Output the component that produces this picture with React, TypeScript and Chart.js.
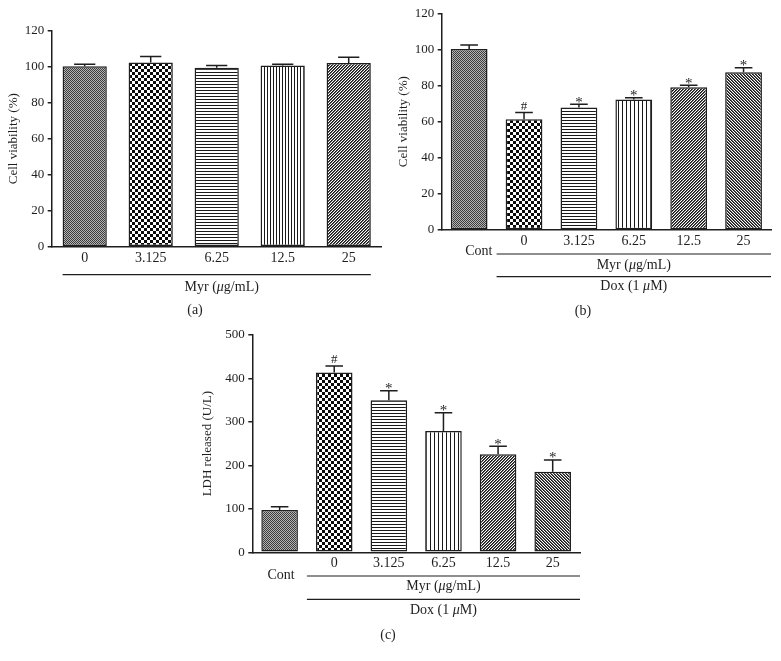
import React, { useEffect, useRef } from 'react';
import { Chart, registerables } from 'chart.js';

Chart.register(...registerables);

const FONT = "'Liberation Serif', 'Times New Roman', serif";
const INK = '#1e1e1e';

// ---------- Panel (a) ----------
const catsA = ['0', '3.125', '6.25', '12.5', '25'];
const valsA = [100.2, 102.4, 99.4, 100.6, 102.0];
const errA = [101.3, 105.6, 100.6, 101.3, 105.2];
const marksA = ['', '', '', '', ''];
const yMaxA = 120;
const yStepA = 20;

// ---------- Panel (b) ----------
const catsB = ['Cont', '0', '3.125', '6.25', '12.5', '25'];
const valsB = [100.2, 61.3, 67.9, 72.2, 79.0, 87.3];
const errB = [102.4, 65.0, 69.6, 73.3, 80.1, 89.9];
const marksB = ['', '#', '*', '*', '*', '*'];
const yMaxB = 120;
const yStepB = 20;

// ---------- Panel (c) ----------
const catsC = ['Cont', '0', '3.125', '6.25', '12.5', '25'];
const valsC = [97.3, 414, 349.7, 279, 225.5, 185.5];
const errC = [105, 428.7, 371.8, 321.2, 243.9, 212.4];
const marksC = ['', '#', '*', '*', '*', '*'];
const yMaxC = 500;
const yStepC = 100;

// fill styles (not data)
const patsA = ['fine', 'checker', 'hlines', 'vlines3', 'diagUp'];
const patsBC = ['fine', 'checker', 'hlines', 'vlines', 'diagUp', 'diagDown'];

type Part = [string, boolean];
const MYR: Part[] = [['Myr (', false], ['\u03bc', true], ['g/mL)', false]];
const DOX: Part[] = [['Dox (1 ', false], ['\u03bc', true], ['M)', false]];

const HSIZE = 14; // horizontal label text size

function makePattern(kind: string): CanvasPattern | string {
  let w = 2, h = 2;
  let fn: (x: number, y: number) => number = () => 255;
  if (kind === 'fine') { w = 2; h = 2; fn = (x, y) => ((x + y) % 2 === 0 ? 60 : 180); }
  else if (kind === 'checker') { w = 6; h = 6; fn = (x, y) => ((Math.floor(x / 3) + Math.floor(y / 3)) % 2 === 0 ? 10 : 255); }
  else if (kind === 'hlines') { w = 1; h = 3; fn = (_x, y) => (y % 3 === 0 ? 25 : 255); }
  else if (kind === 'vlines') { w = 4; h = 1; fn = (x) => (x % 4 === 0 ? 25 : 255); }
  else if (kind === 'vlines3') { w = 3; h = 1; fn = (x) => (x % 3 === 0 ? 25 : 255); }
  else if (kind === 'diagUp') { w = 3; h = 3; fn = (x, y) => { const m = (x + y) % 3; return m === 0 ? 20 : m === 1 ? 95 : 255; }; }
  else if (kind === 'diagDown') { w = 3; h = 3; fn = (x, y) => { const m = (x - y + 300) % 3; return m === 0 ? 20 : m === 1 ? 95 : 255; }; }
  const c = document.createElement('canvas');
  c.width = w; c.height = h;
  const cx = c.getContext('2d')!;
  const img = cx.createImageData(w, h);
  for (let y = 0; y < h; y++) {
    for (let x = 0; x < w; x++) {
      const g = fn(x, y);
      const i = (y * w + x) * 4;
      img.data[i] = g; img.data[i + 1] = g; img.data[i + 2] = g; img.data[i + 3] = 255;
    }
  }
  cx.putImageData(img, 0, 0);
  const p = cx.createPattern(c, 'repeat');
  return p || '#888';
}

function drawRich(ctx: CanvasRenderingContext2D, parts: Part[], cx: number, cy: number, size: number) {
  const fontOf = (it: boolean) => `${it ? 'italic ' : ''}${size}px ${FONT}`;
  let total = 0;
  const widths = parts.map(([t, it]) => { ctx.font = fontOf(it); const w = ctx.measureText(t).width; total += w; return w; });
  let x = cx - total / 2;
  ctx.textAlign = 'left';
  ctx.textBaseline = 'middle';
  parts.forEach(([t, it], i) => { ctx.font = fontOf(it); ctx.fillText(t, x, cy); x += widths[i]; });
}

interface GroupSpec { lineDy: number; labelDy: number; labelDx: number; parts: Part[]; }
interface PanelSpec {
  left: number; top: number; w: number; h: number;
  cats: string[]; vals: number[]; errs: number[]; marks: string[]; pats: string[];
  yMax: number; yStep: number; yTitle: string;
  padLeft: number; padTop: number; padRight: number; yWidth: number; xHeight: number;
  lineFrom: 'barEdge' | 'boundary';
  groups: GroupSpec[];
  cont?: { dx: number; dy: number };
  letter: { text: string; x: number; dy: number };
}

const SPECS: PanelSpec[] = [
  {
    left: 0, top: 0, w: 390, h: 320,
    cats: catsA, vals: valsA, errs: errA, marks: marksA, pats: patsA,
    yMax: yMaxA, yStep: yStepA, yTitle: 'Cell viability (%)',
    padLeft: 6.2, padTop: 30.7, padRight: 8.3, yWidth: 45.5, xHeight: 73.3,
    lineFrom: 'barEdge',
    groups: [{ lineDy: 28, labelDy: 40.5, labelDx: 5, parts: MYR }],
    letter: { text: '(a)', x: 195, dy: 63.5 },
  },
  {
    left: 390, top: 0, w: 391, h: 320,
    cats: catsB, vals: valsB, errs: errB, marks: marksB, pats: patsBC,
    yMax: yMaxB, yStep: yStepB, yTitle: 'Cell viability (%)',
    padLeft: 6.2, padTop: 13.3, padRight: 10, yWidth: 45.5, xHeight: 90,
    lineFrom: 'boundary',
    groups: [
      { lineDy: 24, labelDy: 35, labelDx: 0, parts: MYR },
      { lineDy: 46.7, labelDy: 56.7, labelDx: 0, parts: DOX },
    ],
    cont: { dx: 9.7, dy: 21.7 },
    letter: { text: '(b)', x: 193, dy: 81 },
  },
  {
    left: 190, top: 320, w: 400, h: 341,
    cats: catsC, vals: valsC, errs: errC, marks: marksC, pats: patsBC,
    yMax: yMaxC, yStep: yStepC, yTitle: 'LDH released (U/L)',
    padLeft: 9.5, padTop: 15, padRight: 10, yWidth: 52.8, xHeight: 108.7,
    lineFrom: 'boundary',
    groups: [
      { lineDy: 23.7, labelDy: 34.4, labelDx: 0, parts: MYR },
      { lineDy: 47, labelDy: 58.4, labelDx: 0, parts: DOX },
    ],
    cont: { dx: 1.5, dy: 22.7 },
    letter: { text: '(c)', x: 198, dy: 82.7 },
  },
];

function Panel({ spec }: { spec: PanelSpec }) {
  const ref = useRef<HTMLCanvasElement | null>(null);
  useEffect(() => {
    const canvas = ref.current;
    if (!canvas) return;
    const extras = {
      id: 'extras',
      afterDatasetsDraw(chart: any) {
        const ctx: CanvasRenderingContext2D = chart.ctx;
        const meta = chart.getDatasetMeta(0);
        const ys = chart.scales.y;
        ctx.save();
        ctx.strokeStyle = INK;
        ctx.fillStyle = INK;
        ctx.lineWidth = 1.5;
        spec.vals.forEach((v, i) => {
          const bar = meta.data[i];
          const x = bar.x;
          const yTop = ys.getPixelForValue(v);
          const yErr = ys.getPixelForValue(spec.errs[i]);
          const half = bar.width * 0.24;
          ctx.beginPath();
          ctx.moveTo(x, yTop);
          ctx.lineTo(x, yErr);
          ctx.moveTo(x - half, yErr);
          ctx.lineTo(x + half, yErr);
          ctx.stroke();
          const m = spec.marks[i];
          if (m) {
            ctx.font = `${m === '*' ? 15 : 13}px ${FONT}`;
            ctx.textAlign = 'center';
            ctx.textBaseline = 'alphabetic';
            ctx.fillText(m, x, m === '#' ? yErr - 2.5 : yErr + 2.5);
          }
        });
        ctx.restore();
      },
      afterDraw(chart: any) {
        const ctx: CanvasRenderingContext2D = chart.ctx;
        const meta = chart.getDatasetMeta(0);
        const area = chart.chartArea;
        const bottom = area.bottom;
        ctx.save();
        ctx.strokeStyle = INK;
        ctx.fillStyle = INK;
        ctx.lineWidth = 1.2;
        let x1: number, x2: number;
        const n = meta.data.length;
        if (spec.lineFrom === 'barEdge') {
          x1 = meta.data[0].x - meta.data[0].width / 2;
          x2 = meta.data[n - 1].x + meta.data[n - 1].width / 2;
        } else {
          x1 = (meta.data[0].x + meta.data[1].x) / 2;
          x2 = area.right;
        }
        spec.groups.forEach((g) => {
          ctx.beginPath();
          ctx.moveTo(x1, bottom + g.lineDy);
          ctx.lineTo(x2, bottom + g.lineDy);
          ctx.stroke();
          drawRich(ctx, g.parts, (x1 + x2) / 2 + g.labelDx, bottom + g.labelDy, HSIZE);
        });
        if (spec.cont) {
          ctx.font = `${HSIZE}px ${FONT}`;
          ctx.textAlign = 'center';
          ctx.textBaseline = 'middle';
          ctx.fillText(spec.cats[0], meta.data[0].x + spec.cont.dx, bottom + spec.cont.dy);
        }
        ctx.font = `${HSIZE}px ${FONT}`;
        ctx.textAlign = 'center';
        ctx.textBaseline = 'middle';
        ctx.fillText(spec.letter.text, spec.letter.x, bottom + spec.letter.dy);
        ctx.restore();
      },
    };
    const hasCont = !!spec.cont;
    const chart = new Chart(canvas, {
      type: 'bar',
      data: {
        labels: spec.cats,
        datasets: [{
          data: spec.vals,
          backgroundColor: spec.pats.map(makePattern) as any,
          borderColor: INK,
          borderWidth: 1.5,
          borderSkipped: false,
          categoryPercentage: 1,
          barPercentage: 0.67,
        }],
      },
      options: {
        animation: false,
        responsive: false,
        devicePixelRatio: 1,
        events: [],
        layout: { padding: { left: spec.padLeft, top: spec.padTop, right: spec.padRight, bottom: 0 } },
        plugins: { legend: { display: false }, tooltip: { enabled: false } },
        scales: {
          x: {
            grid: { display: false, drawTicks: false, tickLength: 0 },
            border: { display: true, color: INK, width: 1.5 },
            ticks: {
              color: INK,
              font: { family: FONT, size: HSIZE },
              padding: 3,
              maxRotation: 0,
              autoSkip: false,
              callback: function (this: any, v: any, i: number) {
                if (hasCont && i === 0) return '';
                return this.getLabelForValue(v);
              },
            },
            afterFit: (s: any) => { s.height = spec.xHeight; },
          },
          y: {
            min: 0,
            max: spec.yMax,
            ticks: { stepSize: spec.yStep, color: INK, font: { family: FONT, size: 13 }, padding: 3.5 },
            grid: { drawOnChartArea: false, drawTicks: true, tickLength: 4, color: INK, lineWidth: 1.5 },
            border: { display: true, color: INK, width: 1.5 },
            title: { display: true, text: spec.yTitle, color: INK, font: { family: FONT, size: 13 }, padding: 0 },
            afterFit: (s: any) => { s.width = spec.yWidth; },
          },
        },
      },
      plugins: [extras],
    } as any);
    return () => chart.destroy();
  }, [spec]);
  return (
    <canvas
      ref={ref}
      width={spec.w}
      height={spec.h}
      style={{ position: 'absolute', left: spec.left, top: spec.top, width: spec.w, height: spec.h }}
    />
  );
}

export default function App() {
  return (
    <div style={{ position: 'absolute', left: 0, top: 0, width: 781, height: 661, background: '#fff', overflow: 'hidden' }}>
      {SPECS.map((s, i) => (
        <Panel key={i} spec={s} />
      ))}
    </div>
  );
}
